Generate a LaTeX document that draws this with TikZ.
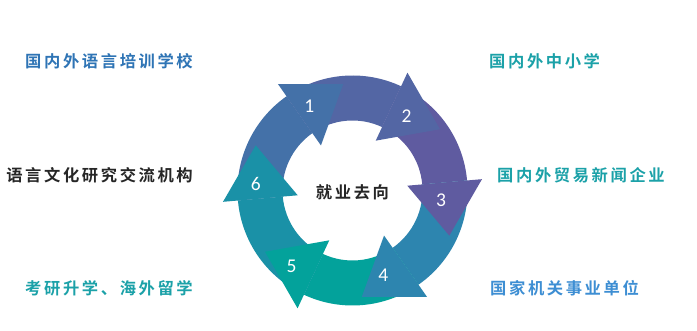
\documentclass[tikz,border=0pt]{standalone}
\usepackage{fontspec}
\usepackage{tikz}
\usetikzlibrary{positioning}
\newfontfamily\cjk{Noto Sans CJK SC}[BoldFont={Noto Sans CJK SC Bold}, LetterSpace=16]
\newfontfamily\numfont{Carlito}
\definecolor{cyc1}{HTML}{4471A8}
\definecolor{cyc2}{HTML}{5366A4}
\definecolor{cyc3}{HTML}{5F5BA0}
\definecolor{cyc4}{HTML}{2D85AF}
\definecolor{cyc5}{HTML}{03A29B}
\definecolor{cyc6}{HTML}{1A91A7}
\definecolor{lblblue}{HTML}{2E74B5}
\definecolor{lblsky}{HTML}{3D8ED3}
\definecolor{lblteal}{HTML}{1BA1A8}
\definecolor{lbldark}{HTML}{262626}

\begin{document}
\begin{tikzpicture}[
  x=1pt, y=1pt,
  lbl/.style={inner sep=0pt, font={\cjk\bfseries\fontsize{16.3}{18}\selectfont}},
  num/.style={inner sep=0pt, text=white, font={\numfont\fontsize{19.5}{20}\selectfont}},
  hubtext/.style={inner sep=0pt, text=lbldark, font={\cjk\bfseries\fontsize{16.3}{18}\selectfont}}
]
\useasboundingbox (0,0) rectangle (697,331);
\fill[white] (0,0) rectangle (697,331);

% ── Cycle ─────────────────────────────────────────────────────
\begin{scope}[shift={(352.5,140.5)}]
  % ring pieces
  \fill[cyc1] (185:115) arc[start angle=185, end angle=125, radius=115] -- (125:70) arc[start angle=125, end angle=185, radius=70] -- cycle;
  \fill[cyc2] (125:115) arc[start angle=125, end angle=65, radius=115] -- (65:70) arc[start angle=65, end angle=125, radius=70] -- cycle;
  \fill[cyc3] (65:115) arc[start angle=65, end angle=5, radius=115] -- (5:70) arc[start angle=5, end angle=65, radius=70] -- cycle;
  \fill[cyc4] (5:115) arc[start angle=5, end angle=-55, radius=115] -- (-55:70) arc[start angle=-55, end angle=5, radius=70] -- cycle;
  \fill[cyc5] (-55:115) arc[start angle=-55, end angle=-115, radius=115] -- (-115:70) arc[start angle=-115, end angle=-55, radius=70] -- cycle;
  \fill[cyc6] (-115:115) arc[start angle=-115, end angle=-175, radius=115] -- (-175:70) arc[start angle=-175, end angle=-115, radius=70] -- cycle;

  % heads
  \fill[cyc1] (125:55) -- (125:130) -- (95:106.8) -- cycle;
  \fill[cyc2] (65:55) -- (65:130) -- (35:106.8) -- cycle;
  \fill[cyc3] (5:55) -- (5:130) -- (-25:106.8) -- cycle;
  \fill[cyc4] (-55:55) -- (-55:130) -- (-85:106.8) -- cycle;
  \fill[cyc5] (-115:55) -- (-115:130) -- (-145:106.8) -- cycle;
  \fill[cyc6] (-175:55) -- (-175:130) -- (155:106.8) -- cycle;

  % numbers
  \node[num] (n1) at (117:95) {1};
  \node[num] (n2) at (54:92) {2};
  \node[num] (n3) at (-6:89) {3};
  \node[num] (n4) at (-70:90) {4};
  \node[num] (n5) at (-129:97) {5};
  \node[num] (n6) at (176:97) {6};

  \node[hubtext] (hub) at (0,-2) {就业去向};
\end{scope}

% ── Left labels ───────────────────────────────────────────────
\node[lbl, text=lblblue, anchor=east] (school) at (193,270) {国内外语言培训学校};
\node[lbl, text=lbldark, anchor=east] (culture) at (193,156) {语言文化研究交流机构};
\node[lbl, text=lblteal, anchor=east] (abroad) at (193,43) {考研升学、海外留学};

% ── Right labels ──────────────────────────────────────────────
\node[lbl, text=lblteal, anchor=west] (primary) at (489,270) {国内外中小学};
\node[lbl, text=lblteal, anchor=west] (trade) at (497,156) {国内外贸易新闻企业};
\node[lbl, text=lblsky, anchor=west] (gov) at (490,43) {国家机关事业单位};
\end{tikzpicture}
\end{document}
